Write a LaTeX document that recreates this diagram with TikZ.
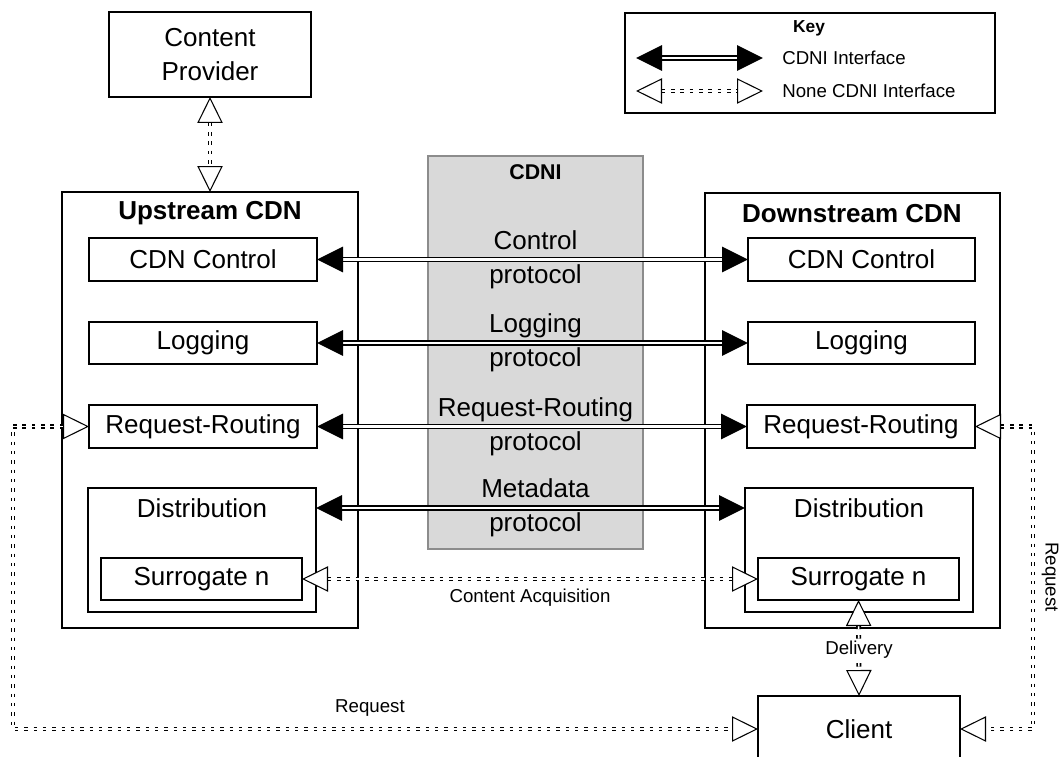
\documentclass[tikz,border=0pt]{standalone}
\usepackage{fontspec}
\setmainfont{Liberation Sans}
\usetikzlibrary{arrows.meta}
\begin{document}
\begin{tikzpicture}[x=0.75pt,y=-0.75pt,
  big/.style={font=\fontsize{19.5pt}{26pt}\selectfont},
  small/.style={font=\fontsize{14pt}{17pt}\selectfont},
  box/.style={draw, line width=1.5pt, inner sep=0pt, outer sep=0pt, big, align=center},
  cdni/.style={double, double distance=1.6pt, line width=1.35pt,
    {Triangle[length=19.5pt,width=19pt]}-{Triangle[length=19.5pt,width=19pt]}},
  ncdni/.style={double, double distance=1.2pt, line width=1.25pt, dash pattern=on 2.6pt off 4.4pt,
    {Triangle[open,length=19.5pt,width=19pt,fill=white,line width=0.8pt]}-{Triangle[open,length=19.5pt,width=19pt,fill=white,line width=0.8pt]}},
  plab/.style={big, anchor=base, inner sep=0pt},
]
\useasboundingbox (0,0) rectangle (1059,756);
% CDNI grey box
\node[draw=black!45, fill=black!15, line width=0.8pt, inner sep=0pt, outer sep=0pt,
  minimum width=161.25pt, minimum height=294.75pt] (grey) at (535.5,352.5) {};
\node[font=\fontsize{16pt}{19pt}\selectfont\bfseries] (cdnititle) at (535.5,172) {CDNI};
% key
\node[draw, line width=1.2pt, inner sep=0pt, outer sep=0pt,
  minimum width=277.5pt, minimum height=75pt] (key) at (810,63) {};
\node[font=\fontsize{13pt}{15pt}\selectfont\bfseries] (keytitle) at (809,28) {Key};
\coordinate (k1a) at (636,58); \coordinate (k1b) at (763,58);
\coordinate (k2a) at (636,91); \coordinate (k2b) at (763,91);
\draw[cdni] (k1a) -- (k1b);
\draw[ncdni] (k2a) -- (k2b);
\node[small, anchor=west, inner sep=0pt] (k1t) at (782,58) {CDNI Interface};
\node[small, anchor=west, inner sep=0pt] (k2t) at (782,91) {None CDNI Interface};
% content provider
\node[box, minimum width=151.5pt, minimum height=63.75pt] (cp) at (210,54.5) {Content\\Provider};
% upstream
\node[box, minimum width=222pt, minimum height=327pt] (up) at (210,410) {};
\node[font=\fontsize{19.5pt}{24pt}\selectfont\bfseries] (uptitle) at (210,213) {Upstream CDN};
\node[box, minimum width=171pt, minimum height=32.25pt] (uCC) at (203,259.5) {CDN Control};
\node[box, minimum width=171pt, minimum height=31.5pt] (uLog) at (203,343) {Logging};
\node[box, minimum width=171pt, minimum height=32.25pt] (uRR) at (203,426.5) {Request-Routing};
\node[box, minimum width=171pt, minimum height=93pt] (uDist) at (202,550) {};
\node[big] (uDistT) at (202,508) {Distribution};
\node[box, minimum width=150.75pt, minimum height=31.5pt] (uSur) at (201.5,579) {Surrogate n};
% downstream
\node[box, minimum width=221.25pt, minimum height=326.25pt] (dn) at (852.5,410.5) {};
\node[font=\fontsize{19.5pt}{24pt}\selectfont\bfseries] (dntitle) at (852,214) {Downstream CDN};
\node[box, minimum width=170.25pt, minimum height=32.25pt] (dCC) at (861.5,259.5) {CDN Control};
\node[box, minimum width=170.25pt, minimum height=31.5pt] (dLog) at (861.5,343) {Logging};
\node[box, minimum width=171pt, minimum height=32.25pt] (dRR) at (861,426.5) {Request-Routing};
\node[box, minimum width=171pt, minimum height=93pt] (dDist) at (859,550) {};
\node[big] (dDistT) at (859,508) {Distribution};
\node[box, minimum width=150.75pt, minimum height=31.5pt] (dSur) at (858.5,579) {Surrogate n};
% client
\node[box, minimum width=151.5pt, minimum height=49.5pt] (client) at (859,729) {Client};
% CDNI interfaces
\draw[cdni] (uCC.east) -- (dCC.west);
\draw[cdni] (uLog.east) -- (dLog.west);
\draw[cdni] (uRR.east) -- (dRR.west);
\draw[cdni] (uDistT -| uDist.east) -- (dDistT -| dDist.west);
\node[plab] (l1a) at (535.5,249) {Control};
\node[plab] (l1b) at (535.5,283) {protocol};
\node[plab] (l2a) at (535.5,332) {Logging};
\node[plab] (l2b) at (535.5,366) {protocol};
\node[plab] (l3a) at (535.5,416) {Request-Routing};
\node[plab] (l3b) at (535.5,450) {protocol};
\node[plab] (l4a) at (535.5,497) {Metadata};
\node[plab] (l4b) at (535.5,531) {protocol};
% non-CDNI interfaces
\draw[ncdni] (cp.south) -- (up.north);
\draw[ncdni] (uSur.east) -- (dSur.west);
\node[small] (caq) at (530,598) {Content Acquisition};
\draw[ncdni] (dSur.south) -- (client.north);
\node[small, fill=white, inner sep=1pt] (deliv) at (859,650) {Delivery};
\draw[ncdni] (uRR.west) -- ++(-76,0) |- (client.west);
\node[small] (reqL) at (370,708) {Request};
\draw[ncdni] (dRR.east) -- ++(58,0) |- (client.east);
\node[small, rotate=-90] (reqR) at (1050,577) {Request};
\end{tikzpicture}
\end{document}
